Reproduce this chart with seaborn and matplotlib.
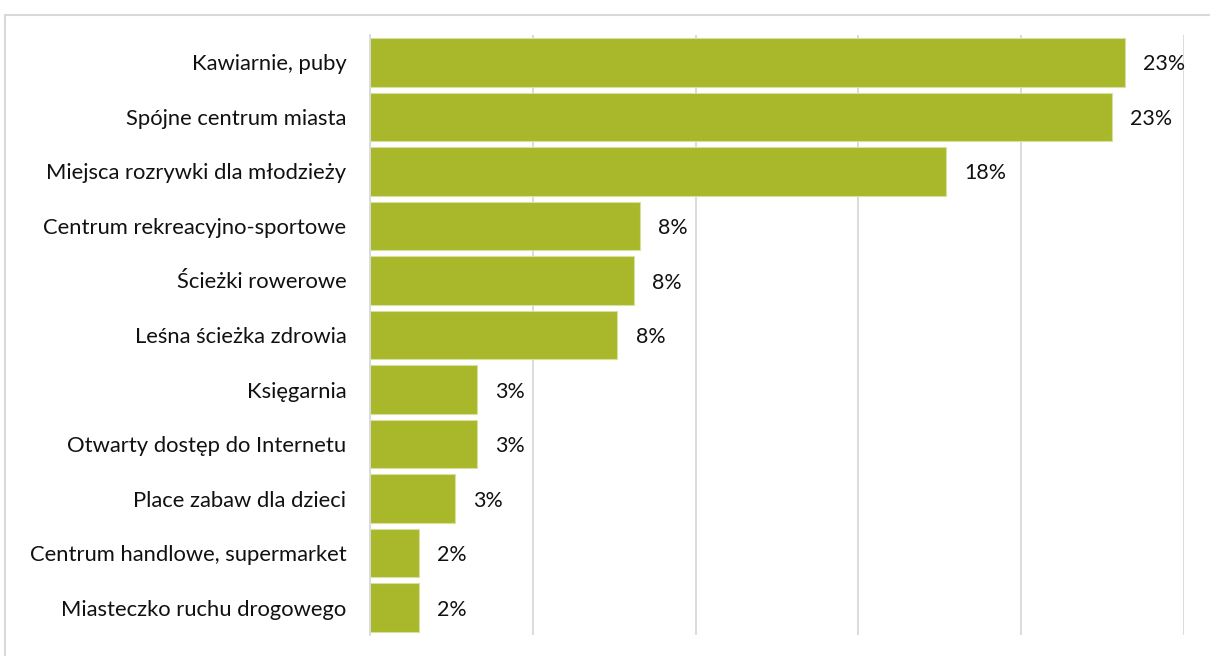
import matplotlib
matplotlib.use("Agg")
import matplotlib.pyplot as plt
from matplotlib.patches import Rectangle
import seaborn as sns
import pandas as pd

# Answers and their share of respondents (%)
categories = [
    "Kawiarnie, puby",
    "Spójne centrum miasta",
    "Miejsca rozrywki dla młodzieży",
    "Centrum rekreacyjno-sportowe",
    "Ścieżki rowerowe",
    "Leśna ścieżka zdrowia",
    "Księgarnia",
    "Otwarty dostęp do Internetu",
    "Place zabaw dla dzieci",
    "Centrum handlowe, supermarket",
    "Miasteczko ruchu drogowego",
]
shares = [23.2, 22.8, 17.7, 8.3, 8.1, 7.6, 3.3, 3.3, 2.6, 1.5, 1.5]
x_ticks = [0, 5, 10, 15, 20, 25]

df = pd.DataFrame({"kategoria": categories, "udzial": shares})

sns.set_theme(style="white")
plt.rcParams["font.family"] = ["Lato", "DejaVu Sans"]

fig = plt.figure(figsize=(12.1, 6.56), dpi=100)
ax = fig.add_axes([370 / 1210, 1 - 635 / 656, (1184 - 370) / 1210, 600 / 656])

bar_color = "#A8B82A"
sns.barplot(data=df, x="udzial", y="kategoria", orient="h", color=bar_color,
            width=0.89, edgecolor="#D8E0A0", linewidth=0.8, saturation=1, ax=ax)

ax.set_xlim(x_ticks[0], x_ticks[-1])
ax.set_ylim(len(categories) - 0.5, -0.5)
ax.set_xticks(x_ticks)
ax.set_xticklabels([])
ax.xaxis.grid(True, color="#D9D9D9", linewidth=1.3)
ax.set_axisbelow(True)
ax.tick_params(axis="x", length=0)
ax.tick_params(axis="y", length=0, pad=17, labelsize=15.8, labelcolor="#111111")
ax.set_xlabel("")
ax.set_ylabel("")
for side in ["top", "right", "bottom"]:
    ax.spines[side].set_visible(False)
ax.spines["left"].set_color("#D9D9D9")
ax.spines["left"].set_linewidth(1.3)

# Value labels to the right of each bar
for i, v in enumerate(shares):
    ax.annotate(f"{v:.0f}%", xy=(v, i), xytext=(13, -1.5), textcoords="offset points",
                va="center", ha="left", fontsize=15.4, color="#111111")

# Light frame around the chart area
fig.patches.append(Rectangle((5 / 1210, -0.05), 1.2, 1 - 15 / 656 + 0.05,
                             transform=fig.transFigure, fill=False,
                             edgecolor="#D9D9D9", linewidth=1.5, zorder=0))

fig.savefig("out.png", dpi=100)
